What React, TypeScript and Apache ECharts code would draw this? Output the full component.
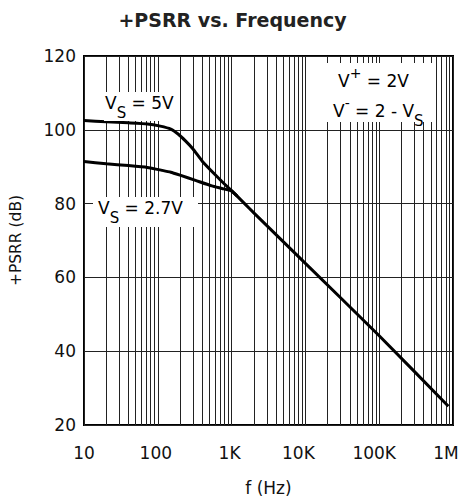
import React, { useEffect, useRef } from "react";
import * as echarts from "echarts";

// ---- data ----
const freq5V = [10, 20, 40, 72, 108, 150, 190, 237, 300, 400, 600, 800, 1000, 1500, 2000, 10000, 100000, 865000];
const psrr5V = [102.5, 102.2, 101.9, 101.6, 101.0, 100.2, 98.8, 97.0, 94.8, 91.5, 87.8, 85.3, 83.5, 80.0, 77.5, 63.8, 44.2, 25.1];
const freq27V = [10, 20, 40, 72, 115, 150, 200, 324, 540, 740, 1000, 1200];
const psrr27V = [91.4, 90.8, 90.3, 89.8, 89.0, 88.5, 87.7, 86.3, 84.8, 84.1, 83.4, 82.0];

const xTickValues = [10, 100, 1000, 10000, 100000, 1000000];
const xTickLabels = ["10", "100", "1K", "10K", "100K", "1M"];
const yTicks = [20, 40, 60, 80, 100, 120];

const decadeStarts = [10, 100, 1000, 10000, 100000];
const minorMultipliers = [2, 3, 4, 5, 6, 7, 8, 9];

// label horizontal nudges (px) per tick label
const labelShift = [0, -2, -2, -7, -5, -7];

const FONT = "'DejaVu Sans', Verdana, sans-serif";

export default function App() {
  const ref = useRef<HTMLDivElement>(null);

  useEffect(() => {
    if (!ref.current) return;
    const chart = echarts.init(ref.current, null, { renderer: "svg" });

    const minorLines: number[] = [];
    decadeStarts.forEach((d) => minorMultipliers.forEach((m) => minorLines.push(d * m)));

    const rich: Record<string, any> = {};
    labelShift.forEach((s, i) => {
      rich["l" + i] = {
        fontSize: 17,
        fontFamily: FONT,
        color: "#111",
        padding: [0, Math.max(0, -2 * s), 0, Math.max(0, 2 * s)],
      };
    });

    const sub = { fontSize: 15, fontFamily: FONT, color: "#111", verticalAlign: "top", padding: [11, 0, 0, 0], lineHeight: 18 };
    const main = { fontSize: 17, fontFamily: FONT, color: "#111", verticalAlign: "top", lineHeight: 18 };
    const mainSup = { fontSize: 17, fontFamily: FONT, color: "#111", verticalAlign: "top", padding: [6, 0, 0, 0], lineHeight: 18 };
    const sup = { fontSize: 14, fontFamily: FONT, color: "#111", verticalAlign: "top", padding: [0, 0, 0, 0], lineHeight: 14 };

    chart.setOption({
      animation: false,
      backgroundColor: "#fff",
      title: {
        text: "+PSRR vs. Frequency",
        left: "center",
        top: 5,
        textStyle: { fontSize: 19, fontWeight: "bold", fontFamily: FONT, color: "#222" },
      },
      grid: {
        left: 81,
        right: 12,
        top: 56,
        bottom: 72,
        show: true,
        borderColor: "#000",
        borderWidth: 2,
        backgroundColor: "transparent",
      },
      xAxis: {
        type: "log",
        logBase: 10,
        min: 10,
        max: 1000000,
        name: "f (Hz)",
        nameLocation: "middle",
        nameGap: 54,
        nameTextStyle: { fontSize: 17, fontFamily: FONT, color: "#111" },
        axisLine: { show: false },
        axisTick: { show: false },
        splitLine: { show: true, lineStyle: { color: "#222", width: 1 } },
        axisLabel: {
          margin: 19,
          fontSize: 17,
          fontFamily: FONT,
          color: "#111",
          formatter: (v: number) => {
            const i = xTickValues.findIndex((t) => Math.abs(t - v) / t < 1e-6);
            return i >= 0 ? "{l" + i + "|" + xTickLabels[i] + "}" : "";
          },
          rich,
        },
      },
      yAxis: {
        type: "value",
        min: yTicks[0],
        max: yTicks[yTicks.length - 1],
        interval: 20,
        name: "+PSRR (dB)",
        nameLocation: "middle",
        nameGap: 60,
        nameTextStyle: { fontSize: 15.5, fontFamily: FONT, color: "#111" },
        axisLine: { show: false },
        axisTick: { show: false },
        splitLine: { show: true, lineStyle: { color: "#222", width: 1 } },
        axisLabel: { margin: 8, fontSize: 17, fontFamily: FONT, color: "#111" },
      },
      series: [
        {
          type: "line",
          name: "grid",
          data: [],
          z: 1,
          silent: true,
          markLine: {
            silent: true,
            symbol: ["none", "none"],
            label: { show: false },
            lineStyle: { color: "#222", width: 1, type: "solid" },
            data: minorLines.map((v) => ({ xAxis: v })),
          },
        },
        {
          type: "line",
          name: "VS = 5V",
          data: freq5V.map((f, i) => [f, psrr5V[i]]),
          showSymbol: false,
          smooth: 0.15,
          z: 5,
          lineStyle: { color: "#000", width: 3 },
        },
        {
          type: "line",
          name: "VS = 2.7V",
          data: freq27V.map((f, i) => [f, psrr27V[i]]),
          showSymbol: false,
          smooth: 0.15,
          z: 5,
          lineStyle: { color: "#000", width: 3 },
        },
      ],
      graphic: [
        { type: "rect", z: 50, shape: { x: 104, y: 92, width: 75, height: 29 }, style: { fill: "#fff" } },
        { type: "rect", z: 50, shape: { x: 93, y: 197, width: 105, height: 30 }, style: { fill: "#fff" } },
        { type: "rect", z: 50, shape: { x: 323, y: 63, width: 112, height: 59 }, style: { fill: "#fff" } },
        {
          type: "text",
          z: 60,
          x: 105,
          y: 94,
          style: { text: "{m|V}{s|S}{m| = 5V}", rich: { m: main, s: sub } },
        },
        {
          type: "text",
          z: 60,
          x: 98,
          y: 199,
          style: { text: "{m|V}{s|S}{m| = 2.7V}", rich: { m: main, s: sub } },
        },
        {
          type: "text",
          z: 60,
          x: 338,
          y: 66,
          style: { text: "{m|V}{p|+}{m| = 2V}", rich: { m: mainSup, p: sup } },
        },
        {
          type: "text",
          z: 60,
          x: 333,
          y: 96,
          style: {
            text: "{m|V}{p|-}{m| = 2 - V}{s|S}",
            rich: { m: mainSup, p: sup, s: { ...sub, padding: [17, 0, 0, 0] } },
          },
        },
      ],
    });

    return () => chart.dispose();
  }, []);

  return <div ref={ref} style={{ position: "fixed", left: 0, top: 0, width: 465, height: 501 }} />;
}
